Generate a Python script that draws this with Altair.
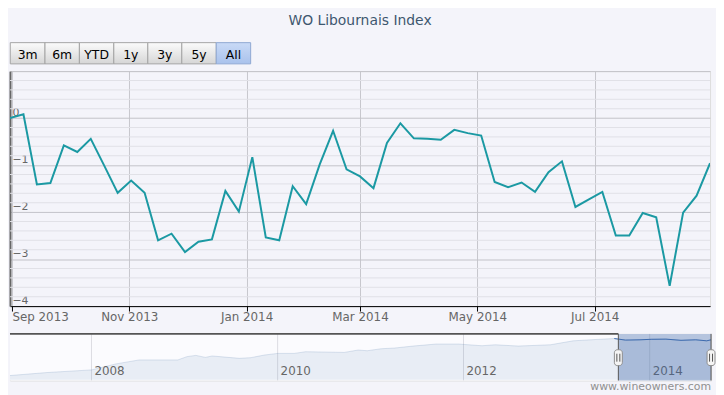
import altair as alt
import pandas as pd

# ---------------- data ----------------
title_text = "WO Libournais Index"
credit_text = "www.wineowners.com"

week_dates = [
    "2013-08-31", "2013-09-07", "2013-09-14", "2013-09-21", "2013-09-28",
    "2013-10-05", "2013-10-12", "2013-10-19", "2013-10-26", "2013-11-02",
    "2013-11-09", "2013-11-16", "2013-11-23", "2013-11-30", "2013-12-07",
    "2013-12-14", "2013-12-21", "2013-12-28", "2014-01-04", "2014-01-11",
    "2014-01-18", "2014-01-25", "2014-02-01", "2014-02-08", "2014-02-15",
    "2014-02-22", "2014-03-01", "2014-03-08", "2014-03-15", "2014-03-22",
    "2014-03-29", "2014-04-05", "2014-04-12", "2014-04-19", "2014-04-26",
    "2014-05-03", "2014-05-10", "2014-05-17", "2014-05-24", "2014-05-31",
    "2014-06-07", "2014-06-14", "2014-06-21", "2014-06-28", "2014-07-05",
    "2014-07-12", "2014-07-19", "2014-07-26", "2014-08-02", "2014-08-09",
    "2014-08-16", "2014-08-23", "2014-08-30",
]
index_change = [
    0.00, 0.08, -1.41, -1.38, -0.58, -0.72, -0.44, -1.01, -1.59, -1.33,
    -1.59, -2.60, -2.46, -2.85, -2.63, -2.58, -1.55, -1.99, -0.83, -2.54,
    -2.60, -1.45, -1.83, -0.99, -0.27, -1.09, -1.24, -1.49, -0.53, -0.11,
    -0.43, -0.44, -0.46, -0.25, -0.32, -0.37, -1.36, -1.47, -1.37, -1.57,
    -1.15, -0.92, -1.89, -1.73, -1.57, -2.50, -2.50, -2.02, -2.11, -3.57,
    -2.01, -1.65, -0.96,
]

y_ticks = [-4, -3, -2, -1, 0, 1]
month_ticks = ["2013-09-01", "2013-11-01", "2014-01-01", "2014-03-01", "2014-05-01", "2014-07-01"]

nav_dates = [
    "2007-02-15", "2007-07-11", "2008-01-01", "2008-04-06", "2008-07-06",
    "2008-12-05", "2009-01-10", "2009-02-14", "2009-03-23", "2009-04-19",
    "2009-08-04", "2009-09-18", "2009-11-11", "2010-01-01", "2010-03-07",
    "2010-04-21", "2010-09-20", "2010-11-13", "2010-12-19", "2011-02-11",
    "2011-04-06", "2011-06-17", "2011-09-15", "2011-12-13", "2012-03-13",
    "2012-05-05", "2012-08-03", "2012-12-07", "2013-03-07", "2013-06-04",
    "2013-08-15", "2013-09-28", "2013-11-24", "2014-01-07", "2014-03-06",
    "2014-05-04", "2014-07-01", "2014-08-13", "2014-08-30",
]
nav_values = [
    9.3, 15.9, 21.7, 34.8, 43.5, 43.5, 50.7, 53.5, 49.1, 52.2,
    47.0, 48.5, 54.3, 57.8, 57.8, 61.5, 60.0, 65.2, 63.7, 68.0,
    69.6, 73.9, 78.3, 78.3, 74.6, 76.7, 73.9, 76.7, 85.4, 88.3,
    90.4, 87.0, 87.6, 88.7, 89.1, 86.5, 87.6, 85.4, 87.6,
]
nav_years = ["2008-01-01", "2010-01-01", "2012-01-01", "2014-01-01"]
nav_year_labels = ["2008", "2010", "2012", "2014"]

button_labels = ["3m", "6m", "YTD", "1y", "3y", "5y", "All"]
button_selected = "All"

view_start = "2013-08-31"
view_end = "2014-08-30"
nav_start = "2007-02-15"

# ---------------- layout / style ----------------
FONT = "DejaVu Sans"
BG = "#f4f4fa"
MAIN_W, MAIN_H = 706, 237
NAV_W, NAV_H = 707, 47
LEFT = 9  # page x of main plot left edge
button_edges = [9.3, 44.3, 79, 113.7, 148, 182.3, 217, 251.7]


def ts(s):
    return pd.Timestamp(s)


main_df = pd.DataFrame({"date": pd.to_datetime(week_dates), "value": index_change})

x_main = alt.Scale(domain=[alt.DateTime(year=2013, month=8, date=31),
                           alt.DateTime(year=2014, month=8, date=30)], nice=False)
y_main = alt.Scale(domain=[-4, 1], nice=False, zero=False)

tick_dt = []
for s in month_ticks:
    t = ts(s)
    tick_dt.append(alt.DateTime(year=t.year, month=t.month, date=t.day))

x_axis = alt.Axis(values=tick_dt, format="%b %Y", labelFlush=5, grid=True,
                  gridColor="#c6c6cc", gridWidth=1, domainColor="#000000",
                  domainWidth=1, tickColor="#000000", tickSize=5,
                  labelPadding=1, labelFontSize=12, labelColor="#666666",
                  labelFont=FONT)
y_axis = alt.Axis(values=y_ticks, labelExpr="datum.value == 1 ? '' : datum.label",
                  grid=True, gridColor="#c2c2c8", ticks=False, tickSize=0,
                  labelAlign="left", labelBaseline="alphabetic",
                  labelPadding=-2, labelOffset=-3, domainColor="#666666",
                  domainWidth=2, labelColor="#666666", labelFontSize=11,
                  labelFont=FONT)

minor_vals = [v / 10 for v in range(-38, 10, 2) if v % 10 != 0]
minor = alt.Chart(pd.DataFrame({"value": minor_vals})).mark_rule(
    color="#e1e1e7", strokeWidth=1
).encode(y=alt.Y("value:Q", scale=y_main, title=None, axis=y_axis))

line = alt.Chart(main_df).mark_line(color="#1b99a3", strokeWidth=2, clip=True).encode(
    x=alt.X("date:T", scale=x_main, title=None, axis=x_axis),
    y=alt.Y("value:Q", scale=y_main, title=None, axis=y_axis),
)

title = alt.Chart(pd.DataFrame({"t": [title_text]})).mark_text(
    font=FONT, fontSize=14, color="#3e576f", align="center", baseline="top"
).encode(x=alt.value(362 - LEFT), y=alt.value(11 - 69), text="t:N")

btn_rows = []
for i, lab in enumerate(button_labels):
    btn_rows.append({"label": lab, "x0": button_edges[i] - LEFT, "x1": button_edges[i + 1] - LEFT,
                     "xc": (button_edges[i] + button_edges[i + 1]) / 2 - LEFT,
                     "sel": lab == button_selected})
btn_df = pd.DataFrame(btn_rows)

grey_grad = alt.Gradient(gradient="linear",
                         stops=[alt.GradientStop(color="#fbfbfb", offset=0),
                                alt.GradientStop(color="#d6d6d6", offset=1)],
                         x1=0, x2=0, y1=0, y2=1)
blue_grad = alt.Gradient(gradient="linear",
                         stops=[alt.GradientStop(color="#c9daf6", offset=0),
                                alt.GradientStop(color="#a9c2ec", offset=1)],
                         x1=0, x2=0, y1=0, y2=1)

btn_plain = alt.Chart(btn_df[~btn_df["sel"]]).mark_rect(
    fill=grey_grad, stroke="#a4a4a4", strokeWidth=1
).encode(x=alt.X("x0:Q", scale=None, axis=None), x2="x1:Q",
         y=alt.value(40.3 - 69), y2=alt.value(61.7 - 69))
btn_sel = alt.Chart(btn_df[btn_df["sel"]]).mark_rect(
    fill=blue_grad, stroke="#8fa8d2", strokeWidth=1
).encode(x=alt.X("x0:Q", scale=None, axis=None), x2="x1:Q",
         y=alt.value(40.3 - 69), y2=alt.value(61.7 - 69))
btn_text = alt.Chart(btn_df).mark_text(
    font=FONT, fontSize=12.5, color="#000000", align="center", baseline="alphabetic"
).encode(x=alt.X("xc:Q", scale=None, axis=None), y=alt.value(56.5 - 69), text="label:N")

pin = alt.Chart(pd.DataFrame({"p": [0]})).mark_rule(opacity=0).encode(
    x=alt.value(100), x2=alt.value(101), y=alt.value(8 - 69)
)

main = alt.layer(minor, line, title, btn_plain, btn_sel, btn_text, pin).properties(
    width=MAIN_W, height=MAIN_H
)

# ---------------- navigator ----------------
nav_df = pd.DataFrame({"date": pd.to_datetime(nav_dates), "value": nav_values})
nav_sel_df = nav_df[nav_df["date"] >= ts(view_start) - pd.Timedelta(days=20)]
x_nav = alt.Scale(domain=[alt.DateTime(year=2007, month=2, date=15),
                          alt.DateTime(year=2014, month=8, date=30)], nice=False)
y_nav = alt.Scale(domain=[-1.5, 100.6], nice=False, zero=False)

nav_bg = alt.Chart(pd.DataFrame({"p": [0]})).mark_rect(fill="#fbfbfe").encode(
    x=alt.value(0), x2=alt.value(NAV_W), y=alt.value(0), y2=alt.value(NAV_H)
)
years_df = pd.DataFrame({"date": pd.to_datetime(nav_years), "label": nav_year_labels})
nav_grid = alt.Chart(years_df).mark_rule(color="#dcdce3", strokeWidth=1).encode(
    x=alt.X("date:T", scale=x_nav, axis=None)
)
nav_area = alt.Chart(nav_df).mark_area(fill="#4572a7", fillOpacity=0.1, clip=True).encode(
    x=alt.X("date:T", scale=x_nav, axis=None),
    y=alt.Y("value:Q", scale=y_nav, axis=None),
)
nav_line = alt.Chart(nav_df).mark_line(color="#4572a7", opacity=0.18, strokeWidth=1, clip=True).encode(
    x=alt.X("date:T", scale=x_nav, axis=None),
    y=alt.Y("value:Q", scale=y_nav, axis=None),
)
nav_labels = alt.Chart(years_df).mark_text(
    font=FONT, fontSize=12, color="#666666", align="left", baseline="alphabetic", dx=3
).encode(x=alt.X("date:T", scale=x_nav, axis=None), y=alt.value(374 - 333), text="label:N")

sel_df = pd.DataFrame({"start": [ts(view_start)], "end": [ts(view_end)]})
nav_sel = alt.Chart(sel_df).mark_rect(fill="#3f66a8", opacity=0.37).encode(
    x=alt.X("start:T", scale=x_nav, axis=None), x2="end:T",
    y=alt.value(0), y2=alt.value(NAV_H)
)
nav_sel_line = alt.Chart(nav_sel_df).mark_line(color="#3d6aae", strokeWidth=1, clip=True).encode(
    x=alt.X("date:T", scale=x_nav, axis=None),
    y=alt.Y("value:Q", scale=y_nav, axis=None),
)
outline_df = pd.DataFrame({"a": [ts(nav_start)], "b": [ts(view_start)]})
nav_top = alt.Chart(outline_df).mark_rule(color="#555555", strokeWidth=2).encode(
    x=alt.X("a:T", scale=x_nav, axis=None), x2="b:T", y=alt.value(0)
)
handles_df = pd.DataFrame({"date": [ts(view_start), ts(view_end)]})
nav_edges = alt.Chart(handles_df).mark_rule(color="#555555", strokeWidth=1).encode(
    x=alt.X("date:T", scale=x_nav, axis=None), y=alt.value(0), y2=alt.value(NAV_H)
)
nav_handles = alt.Chart(handles_df).mark_rect(
    fill="#f4f4f4", stroke="#8c8c8c", strokeWidth=1, cornerRadius=3, xOffset=-4, x2Offset=4
).encode(x=alt.X("date:T", scale=x_nav, axis=None), x2="date:T",
         y=alt.value(349 - 333), y2=alt.value(365 - 333))
grip_l = alt.Chart(handles_df).mark_rule(color="#555555", strokeWidth=1, xOffset=-1.5).encode(
    x=alt.X("date:T", scale=x_nav, axis=None), y=alt.value(20), y2=alt.value(28)
)
grip_r = alt.Chart(handles_df).mark_rule(color="#555555", strokeWidth=1, xOffset=1.5).encode(
    x=alt.X("date:T", scale=x_nav, axis=None), y=alt.value(20), y2=alt.value(28)
)
credit = alt.Chart(pd.DataFrame({"t": [credit_text]})).mark_text(
    font=FONT, fontSize=11, color="#909090", align="right", baseline="alphabetic"
).encode(x=alt.value(NAV_W), y=alt.value(390 - 333), text="t:N")

nav = alt.layer(nav_bg, nav_grid, nav_area, nav_line, nav_labels, nav_sel, nav_sel_line,
                nav_top, nav_edges, nav_handles, grip_l, grip_r, credit).properties(
    width=NAV_W, height=NAV_H
)

chart = alt.vconcat(main, nav, spacing=8).properties(
    background=BG, padding=0
).configure_view(stroke=None).configure(font=FONT)

chart.save("out.html", embed_options={"renderer": "svg", "actions": False})
